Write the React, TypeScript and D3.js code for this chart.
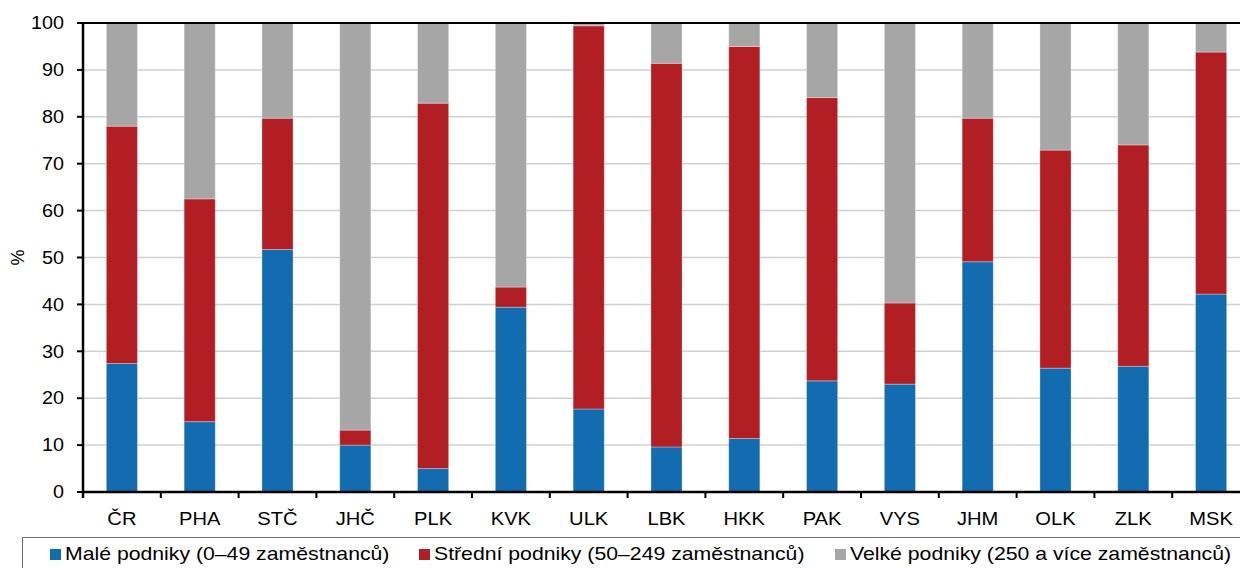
import * as d3 from 'd3';

const W = 1240;
const H = 568;

// regions (NUTS 3 abbreviations)
const regions = ['ČR', 'PHA', 'STČ', 'JHČ', 'PLK', 'KVK', 'ULK', 'LBK', 'HKK', 'PAK', 'VYS', 'JHM', 'OLK', 'ZLK', 'MSK'];

// shares in %
const small = [27.4, 15.0, 51.7, 10.0, 5.0, 39.4, 17.7, 9.6, 11.4, 23.7, 23.0, 49.1, 26.4, 26.8, 42.2];
const medium = [50.6, 47.5, 28.0, 3.2, 77.9, 4.3, 81.7, 81.8, 83.6, 60.4, 17.3, 30.6, 46.5, 47.2, 51.6];
const large = [22.0, 37.5, 20.3, 86.8, 17.1, 56.3, 0.6, 8.6, 5.0, 15.9, 59.7, 20.3, 27.1, 26.0, 6.2];

const yTicks = [0, 10, 20, 30, 40, 50, 60, 70, 80, 90, 100];

const seriesNames = [
  'Malé podniky (0–49 zaměstnanců)',
  'Střední podniky (50–249 zaměstnanců)',
  'Velké podniky (250 a více zaměstnanců)',
];
const colors = ['#136cb0', '#b11f24', '#a6a6a6'];

const FONT = '"Liberation Sans", Arial, sans-serif';

export default function App() {
  const margin = { left: 83, top: 23, bottom: 492, right: 1250 };

  const x = d3
    .scaleBand<string>()
    .domain(regions)
    .range([margin.left, margin.right])
    .paddingInner(0.6)
    .paddingOuter(0.3);
  const y = d3.scaleLinear().domain([0, 100]).range([margin.bottom, margin.top]);

  const rows = regions.map((r, i) => ({ region: r, small: small[i], medium: medium[i], large: large[i] }));
  const stacked = d3.stack<(typeof rows)[number]>().keys(['small', 'medium', 'large'])(rows);

  const step = x.step();
  const boundaries = d3.range(regions.length + 1).map((k) => margin.left + k * step);

  const legendX = [50, 419, 835];

  return (
    <div style={{ position: 'fixed', left: 0, top: 0 }}>
      <svg width={W} height={H} style={{ display: 'block', fontFamily: FONT }}>
        <rect width={W} height={H} fill="#fff" />

        {/* grid */}
        {yTicks.map((t) => (
          <line key={t} x1={margin.left} x2={W} y1={y(t)} y2={y(t)} stroke="#d0d0d0" strokeWidth={1.5} />
        ))}

        {/* bars */}
        {stacked.map((s, si) => (
          <g key={s.key}>
            {s.map((d) => (
              <rect
                key={d.data.region}
                x={x(d.data.region)}
                y={y(d[1])}
                width={x.bandwidth()}
                height={y(d[0]) - y(d[1])}
                fill={colors[si]}
                stroke="rgba(255,255,255,0.3)"
                strokeWidth={1}
              />
            ))}
          </g>
        ))}

        {/* frame */}
        <line x1={margin.left} x2={W} y1={margin.top} y2={margin.top} stroke="#000" strokeWidth={2} />
        <line x1={margin.left} x2={W} y1={margin.bottom} y2={margin.bottom} stroke="#000" strokeWidth={2.5} />
        <line x1={margin.left} x2={margin.left} y1={margin.top} y2={margin.bottom + 6} stroke="#000" strokeWidth={2.5} />

        {/* y axis */}
        {yTicks.map((t) => (
          <g key={t}>
            <line x1={margin.left - 6} x2={margin.left} y1={y(t)} y2={y(t)} stroke="#000" strokeWidth={2} />
            <text
              x={64}
              y={y(t)}
              dy="0.35em"
              textAnchor="end"
              fontSize={18}
              fill="#000"
              transform={`translate(64,0) scale(1.1,1) translate(-64,0)`}
            >
              {t}
            </text>
          </g>
        ))}
        <text
          transform={`translate(24,${(margin.top + margin.bottom) / 2}) rotate(-90)`}
          textAnchor="middle"
          fontSize={18}
        >
          %
        </text>

        {/* x axis */}
        {boundaries.map((b, i) => (
          <line key={i} x1={b} x2={b} y1={margin.bottom} y2={margin.bottom + 6} stroke="#000" strokeWidth={2} />
        ))}
        {regions.map((r) => {
          const cx = x(r)! + x.bandwidth() / 2;
          return (
            <text
              key={r}
              x={cx}
              y={525}
              textAnchor="middle"
              fontSize={18}
              transform={`translate(${cx},0) scale(1.12,1) translate(${-cx},0)`}
            >
              {r}
            </text>
          );
        })}

        {/* legend */}
        <rect x={22.5} y={537.5} width={W} height={60} fill="none" stroke="#6f6f6f" strokeWidth={1} />
        {seriesNames.map((name, i) => (
          <g key={name}>
            <rect x={legendX[i]} y={549} width={11} height={11} fill={colors[i]} />
            <text
              x={legendX[i] + 15}
              y={560}
              fontSize={18}
              transform={`translate(${legendX[i] + 15},0) scale(1.18,1) translate(${-(legendX[i] + 15)},0)`}
            >
              {name}
            </text>
          </g>
        ))}
      </svg>
    </div>
  );
}
